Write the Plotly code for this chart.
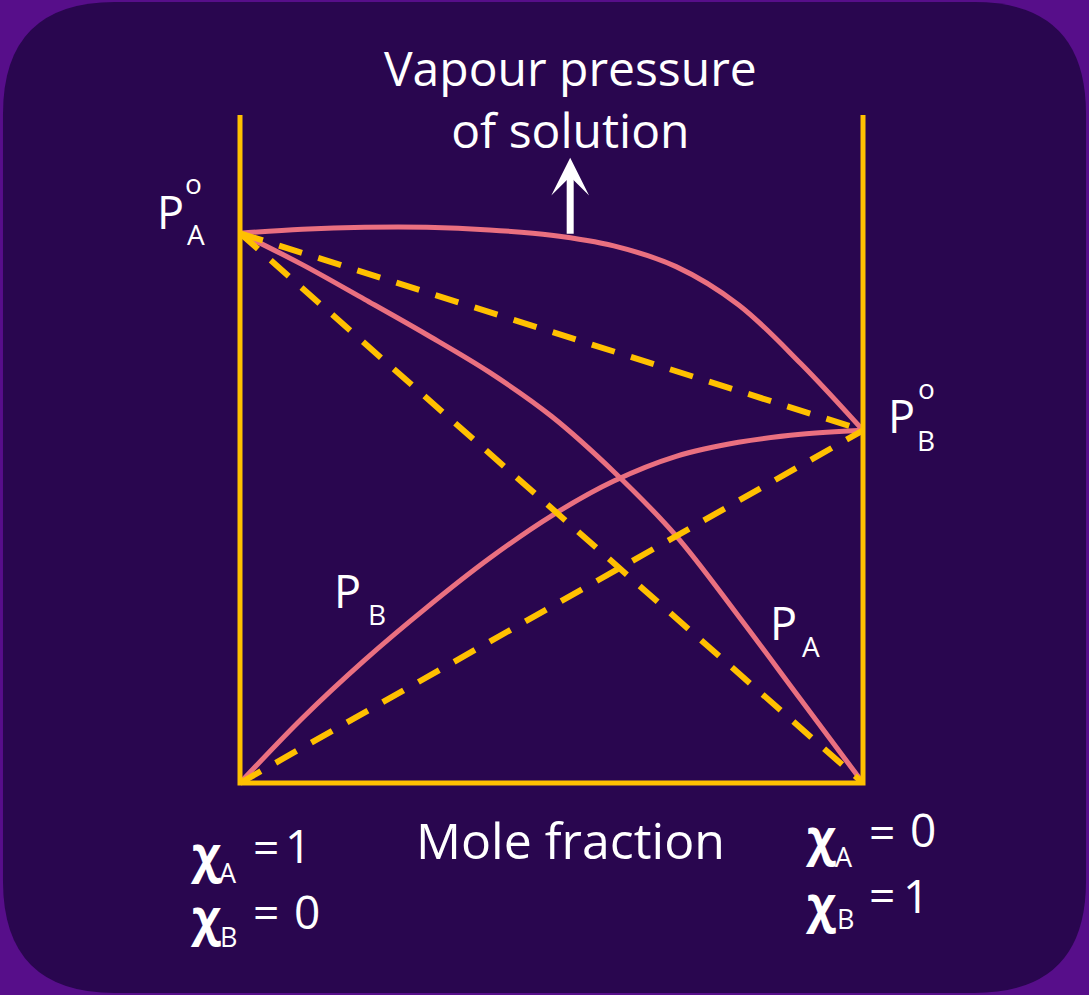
import plotly.graph_objects as go

W, H = 1089, 995

# ---- data (x = mole fraction of B, y = vapour pressure, arbitrary units) ----
PA0 = 82.3   # vapour pressure of pure A
PB0 = 52.8   # vapour pressure of pure B

curve_x = [0.0, 0.1, 0.2, 0.3, 0.4, 0.5, 0.6, 0.7, 0.8, 0.9, 1.0]
total_y = [82.3, 82.9, 83.2, 83.2, 82.8, 82.0, 80.4, 77.3, 71.6, 62.8, 52.8]
pa_y = [82.3, 77.6, 72.4, 67.1, 61.5, 54.9, 46.6, 37.0, 25.0, 12.5, 0.0]
pb_y = [0.0, 9.7, 18.4, 26.3, 33.6, 40.0, 45.2, 48.9, 51.0, 52.2, 52.8]

ideal_x = [0.0, 1.0]
ideal_pa = [PA0, 0.0]
ideal_pb = [0.0, PB0]
ideal_total = [PA0, PB0]

frame_x = [0.0, 0.0, 1.0, 1.0]
frame_y = [100.0, 0.0, 0.0, 100.0]

YEL = "#FFC000"
PINK = "#EA7080"
FONT = "Open Sans"

fig = go.Figure()

for ys in [total_y, pa_y, pb_y]:
    fig.add_trace(go.Scatter(x=curve_x, y=ys, mode="lines",
                             line=dict(color=PINK, width=5, shape="spline", smoothing=1.0),
                             hoverinfo="skip"))

for ys in [ideal_pa, ideal_pb, ideal_total]:
    fig.add_trace(go.Scatter(x=ideal_x, y=ys, mode="lines",
                             line=dict(color=YEL, width=6, dash="24px,17px"),
                             hoverinfo="skip"))

fig.add_trace(go.Scatter(x=frame_x, y=frame_y, mode="lines",
                         line=dict(color=YEL, width=5), hoverinfo="skip"))

# pixel -> paper helpers for label placement
def px(v):
    return v / W

def py(v):
    return 1 - v / H

annots = []

def txt(t, x, y, size, bold=False, xa="center", ya="middle"):
    annots.append(dict(text=("<b>%s</b>" % t) if bold else t, x=px(x), y=py(y),
                       xref="paper", yref="paper", showarrow=False,
                       xanchor=xa, yanchor=ya,
                       font=dict(family=FONT, size=size, color="white")))

# title
txt("Vapour pressure<br>of solution", 570, 99, 48)
# x label
txt("Mole fraction", 570, 840, 50)

# P_A^o
txt("P", 170, 211, 45)
txt("o", 193, 183, 28)
txt("A", 196, 234, 28)
# P_B^o
txt("P", 901, 416, 45)
txt("o", 926, 388, 28)
txt("B", 926, 440, 28)
# P_B
txt("P", 347, 590, 45)
txt("B", 377, 614, 28)
# P_A
txt("P", 783, 622, 45)
txt("A", 811, 646, 28)

# chi labels left
txt("χ", 205, 853, 48, bold=True)
txt("A", 228, 872, 27)
txt("=", 266, 846, 46)
txt("1", 298, 845, 46)
txt("χ", 205, 916, 48, bold=True)
txt("B", 228, 936, 27)
txt("=", 266, 911, 46)
txt("0", 307, 911, 46)
# chi labels right
txt("χ", 820, 836, 48, bold=True)
txt("A", 844, 856, 27)
txt("=", 882, 831, 46)
txt("0", 923, 829, 46)
txt("χ", 820, 903, 48, bold=True)
txt("B", 845, 918, 27)
txt("=", 882, 894, 46)
txt("1", 916, 895, 46)

# arrow
annots.append(dict(x=0.530, y=93.6, ax=0.530, ay=82.0, xref="x", yref="y",
                   axref="x", ayref="y", text="", showarrow=True,
                   arrowhead=3, arrowsize=0.9, arrowwidth=7, arrowcolor="white"))

# rounded background panel
r = 112
x0, y0, x1, y1 = 3, 2, 1086, 993
def P(xx, yy):
    return "%.5f,%.5f" % (xx / W, 1 - yy / H)
path = ("M %s L %s Q %s %s L %s Q %s %s L %s Q %s %s L %s Q %s %s Z" % (
    P(x0 + r, y0), P(x1 - r, y0), P(x1, y0), P(x1, y0 + r),
    P(x1, y1 - r), P(x1, y1), P(x1 - r, y1),
    P(x0 + r, y1), P(x0, y1), P(x0, y1 - r),
    P(x0, y0 + r), P(x0, y0), P(x0 + r, y0)))

fig.update_layout(
    width=W, height=H,
    margin=dict(l=0, r=0, t=0, b=0),
    paper_bgcolor="#570e8a",
    plot_bgcolor="rgba(0,0,0,0)",
    showlegend=False,
    xaxis=dict(range=[-240 / 623, 849 / 623], visible=False, fixedrange=True),
    yaxis=dict(range=[(783 - 995) / 6.68, 783 / 6.68], visible=False, fixedrange=True),
    shapes=[dict(type="path", path=path, xref="paper", yref="paper",
                 fillcolor="#29064f", line=dict(width=0), layer="below")],
    annotations=annots,
)

fig.write_html("out.html", config={"displayModeBar": False},
               post_script="document.body.style.margin='0';document.body.style.overflow='hidden';")
